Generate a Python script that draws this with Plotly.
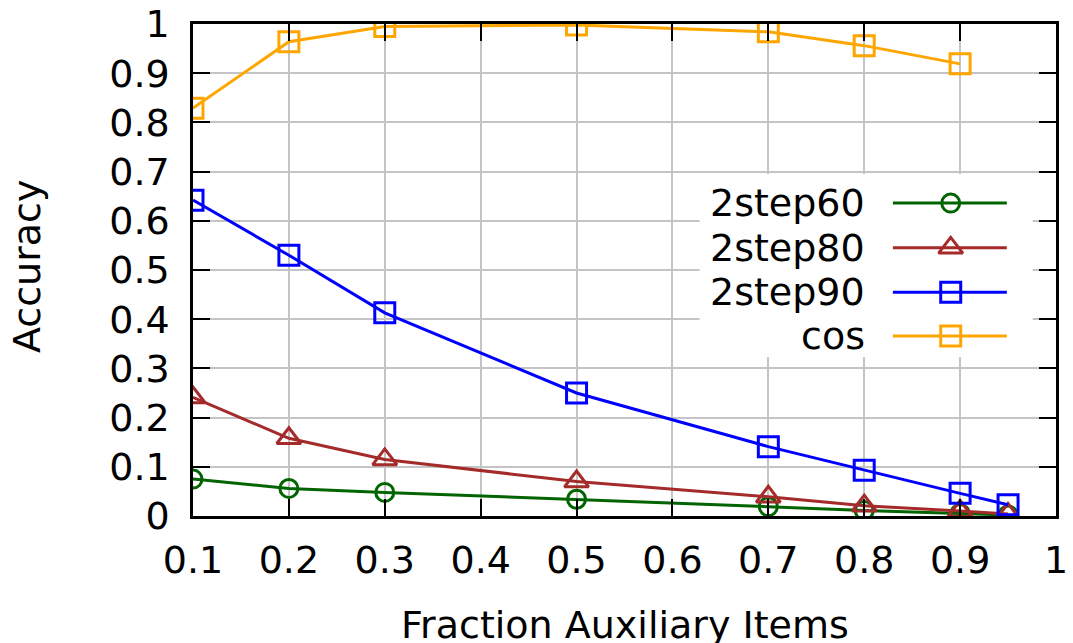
import plotly.graph_objects as go

# Fraction of auxiliary items used
fraction = [0.1, 0.2, 0.3, 0.5, 0.7, 0.8, 0.9, 0.95]
fraction_cos = [0.1, 0.2, 0.3, 0.5, 0.7, 0.8, 0.9]

# Accuracy per method
acc_2step60 = [0.075, 0.056, 0.048, 0.034, 0.019, 0.011, 0.005, 0.002]
acc_2step80 = [0.241, 0.158, 0.115, 0.070, 0.039, 0.021, 0.010, 0.004]
acc_2step90 = [0.642, 0.530, 0.413, 0.250, 0.141, 0.093, 0.046, 0.023]
acc_cos = [0.829, 0.964, 0.995, 0.998, 0.984, 0.956, 0.919]

series_names = ["2step60", "2step80", "2step90", "cos"]
series_colors = ["#006400", "#a52a2a", "#0000ff", "#ffa500"]
series_symbols = ["circle-open", "triangle-up-open", "square-open", "square-open"]
series_sizes = [18, 21, 20, 20]
series_x = [fraction, fraction, fraction, fraction_cos]
series_y = [acc_2step60, acc_2step80, acc_2step90, acc_cos]

FONT = "DejaVu Sans"
FS = 38
W, H = 1073, 643
ML, MR, MT, MB = 193, 17, 24, 127
PW, PH = W - ML - MR, H - MT - MB

fig = go.Figure()

for name, col, sym, sz, xs, ys in zip(series_names, series_colors, series_symbols,
                                      series_sizes, series_x, series_y):
    fig.add_trace(go.Scatter(
        x=xs, y=ys, mode="lines+markers", name=name,
        line=dict(color=col, width=3),
        marker=dict(symbol=sym, size=sz, color=col, line=dict(color=col, width=3)),
        showlegend=False, hoverinfo="skip",
    ))

# Opaque key background (overlay axis spanning the plot area, drawn above the grid)
key_box_x = [0.587, 0.973, 0.973, 0.587, 0.587]
key_box_y = [0.323, 0.323, 0.695, 0.695, 0.323]
fig.add_trace(go.Scatter(
    x=key_box_x, y=key_box_y, mode="lines", fill="toself",
    fillcolor="white", line=dict(width=0, color="white"),
    xaxis="x2", yaxis="y2", showlegend=False, hoverinfo="skip",
))

# Key: right-aligned labels with line samples
key_text_x = 0.781
key_line_x0, key_line_x1 = 0.811, 0.943
key_marker_x = 0.878
key_rows_y = [0.636, 0.545, 0.455, 0.366]

for name, col, sym, sz, ky in zip(series_names, series_colors, series_symbols,
                                  series_sizes, key_rows_y):
    fig.add_trace(go.Scatter(
        x=[key_line_x0, key_line_x1], y=[ky, ky], mode="lines",
        line=dict(color=col, width=3), xaxis="x2", yaxis="y2",
        showlegend=False, hoverinfo="skip",
    ))
    fig.add_trace(go.Scatter(
        x=[key_marker_x], y=[ky], mode="markers",
        marker=dict(symbol=sym, size=sz, color=col, line=dict(color=col, width=3)),
        xaxis="x2", yaxis="y2", showlegend=False, hoverinfo="skip",
    ))
    fig.add_annotation(
        x=key_text_x, y=ky, xref="x2", yref="y2", text=name, showarrow=False,
        xanchor="right", yanchor="middle",
        font=dict(family=FONT, size=FS, color="black"),
    )

axis_common = dict(
    showline=True, linecolor="black", linewidth=2.5, mirror="allticks",
    ticks="inside", ticklen=17, tickwidth=2, tickcolor="black",
    showgrid=True, gridcolor="#c4c4c4", gridwidth=2, zeroline=False,
    automargin=False,
    tickfont=dict(family=FONT, size=FS, color="black"),
)

fig.update_layout(
    width=W, height=H,
    margin=dict(l=ML, r=MR, t=MT, b=MB),
    paper_bgcolor="white", plot_bgcolor="white",
    xaxis=dict(range=[0.1, 1.0], tickvals=[0.1 * i for i in range(1, 11)],
               ticktext=["0.1", "0.2", "0.3", "0.4", "0.5", "0.6", "0.7", "0.8", "0.9", "1"],
               ticklabelstandoff=9, **axis_common),
    yaxis=dict(range=[0, 1.0], tickvals=[0.1 * i for i in range(0, 11)],
               ticktext=["0", "0.1", "0.2", "0.3", "0.4", "0.5", "0.6", "0.7", "0.8", "0.9", "1"],
               ticklabelstandoff=13, **axis_common),
    xaxis2=dict(range=[0, 1], overlaying="x", visible=False, fixedrange=True, automargin=False),
    yaxis2=dict(range=[0, 1], overlaying="y", visible=False, fixedrange=True, automargin=False),
    showlegend=False,
)

# Axis titles
fig.add_annotation(
    x=(27 - ML) / PW, y=0.508, xref="paper", yref="paper", text="Accuracy",
    textangle=-90, showarrow=False, xanchor="center", yanchor="middle",
    font=dict(family=FONT, size=FS, color="black"),
)
fig.add_annotation(
    x=0.5, y=-0.222, xref="paper", yref="paper", text="Fraction Auxiliary Items",
    showarrow=False, xanchor="center", yanchor="middle",
    font=dict(family=FONT, size=FS, color="black"),
)

fig.write_html("out.html", config={"displayModeBar": False})
